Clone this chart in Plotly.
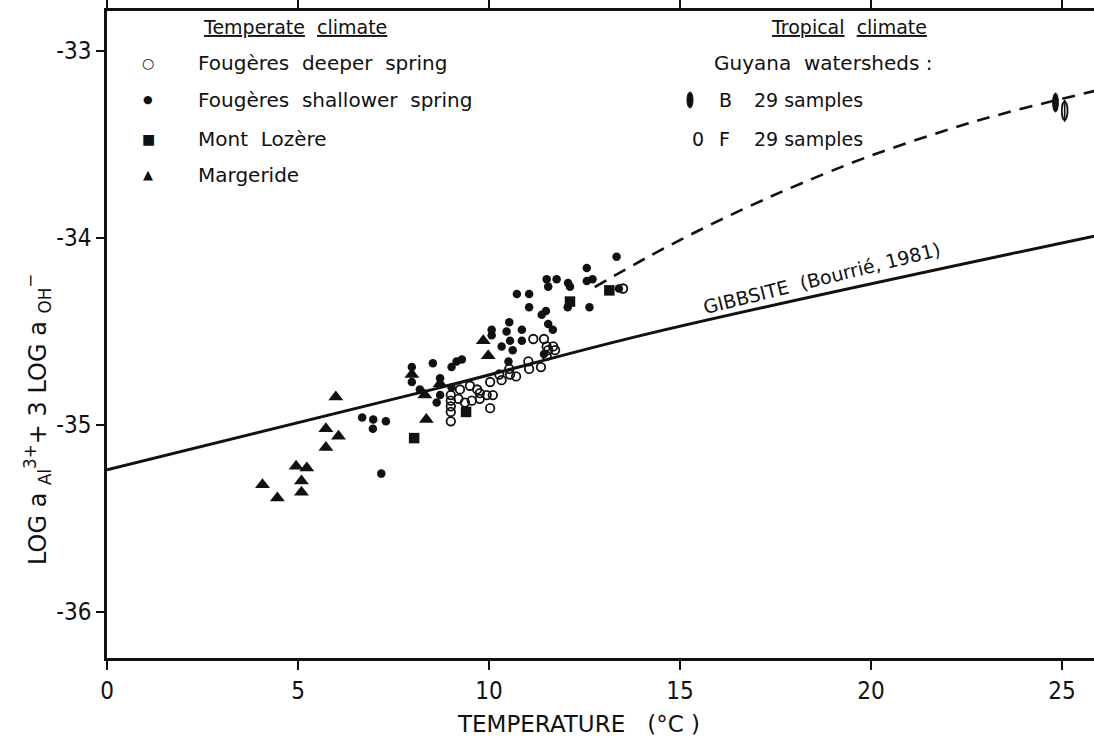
import plotly.graph_objects as go

# ---------------- data ----------------
# Fougères deeper spring (open circles)
deep_T = [11.16, 11.44, 11.51, 11.68, 11.55, 11.73, 11.51, 11.03, 11.05, 11.36, 10.53, 10.55,
          10.71, 10.27, 10.33, 10.03, 9.50, 9.69, 9.76, 9.94, 10.10, 9.24, 9.00, 9.00, 9.20,
          9.37, 9.55, 9.76, 9.00, 9.00, 10.03, 9.00, 13.51]
deep_v = [-34.54, -34.54, -34.58, -34.58, -34.60, -34.60, -34.63, -34.66, -34.70, -34.69, -34.70, -34.73,
          -34.74, -34.73, -34.76, -34.77, -34.79, -34.81, -34.83, -34.84, -34.84, -34.81, -34.84, -34.87, -34.86,
          -34.88, -34.87, -34.86, -34.90, -34.93, -34.91, -34.98, -34.27]

# Fougères shallower spring (filled circles)
shallow_T = [6.68, 6.97, 7.30, 6.96, 7.18, 7.98, 7.98, 8.53, 9.02, 9.15, 9.29, 8.72, 8.72, 9.02, 8.63,
             8.19, 10.51, 11.44, 10.07, 10.07, 10.46, 10.55, 10.53, 10.86, 10.86, 10.33, 10.62, 10.73,
             11.05, 11.05, 11.38, 11.49, 11.55, 11.67, 11.51, 11.55, 11.77, 12.07, 12.12, 12.06, 12.63,
             12.56, 12.56, 12.71, 13.34, 13.40]
shallow_v = [-34.96, -34.97, -34.98, -35.02, -35.26, -34.69, -34.77, -34.67, -34.69, -34.66, -34.65, -34.75,
             -34.84, -34.80, -34.88, -34.81, -34.66, -34.62, -34.49, -34.52, -34.50, -34.55, -34.45, -34.49,
             -34.55, -34.58, -34.60, -34.30, -34.30, -34.37, -34.41, -34.39, -34.46, -34.49, -34.22, -34.26,
             -34.22, -34.24, -34.26, -34.37, -34.37, -34.16, -34.23, -34.22, -34.10, -34.27]

# Mont Lozère (squares)
loz_T = [8.04, 9.40, 12.12, 13.15]
loz_v = [-35.07, -34.93, -34.34, -34.28]

# Margeride (triangles)
marg_T = [5.99, 5.73, 6.06, 5.73, 4.95, 5.23, 5.09, 4.07, 5.09, 4.46, 8.32, 8.36, 7.98, 9.85, 9.98, 8.72]
marg_v = [-34.85, -35.02, -35.06, -35.12, -35.22, -35.23, -35.30, -35.32, -35.36, -35.39, -34.84, -34.97,
          -34.73, -34.55, -34.63, -34.78]

# Guyana watersheds (29 samples each): centre temperature, min and max value
guy_names = ["B", "F"]
guy_T = [24.83, 25.07]
guy_min = [-33.326, -33.369]
guy_max = [-33.225, -33.271]

# Gibbsite solubility line (Bourrié, 1981)
gibbs_T = [0.0, 8.72, 14.21, 25.84]
gibbs_v = [-35.24, -34.80, -34.51, -33.99]

# dashed trend towards tropical data
dash_T = [12.77, 14.21, 15.52, 16.83, 18.14, 19.90, 22.07, 23.38, 24.87, 25.84]
dash_v = [-34.262, -34.096, -33.957, -33.829, -33.711, -33.567, -33.417, -33.339, -33.262, -33.214]

x_ticks = [0, 5, 10, 15, 20, 25]
y_ticks = [-33, -34, -35, -36]
y_ticktext = ["-33", "-34", "-35", "-36"]

# ---------------- layout geometry ----------------
W, H = 1094, 742
ML, MR, MT, MB = 107, 0, 11, 84
PW, PH = W - ML - MR, H - MT - MB


def px(x):
    return (x - ML) / PW


def py(y):
    return (H - MB - y) / PH


FONT = "DejaVu Sans, sans-serif"
TICKFONT = "DejaVu Sans Condensed, DejaVu Sans, sans-serif"
BLACK = "#111111"

fig = go.Figure()

fig.add_trace(go.Scatter(x=gibbs_T, y=gibbs_v, mode="lines", line_shape="spline",
                         line=dict(color=BLACK, width=3, smoothing=1.0), showlegend=False, hoverinfo="skip"))
fig.add_trace(go.Scatter(x=dash_T, y=dash_v, mode="lines", line_shape="spline",
                         line=dict(color=BLACK, width=2.6, dash="13px,9px", smoothing=1.0), showlegend=False))

fig.add_trace(go.Scatter(x=deep_T, y=deep_v, mode="markers", name="Fougères deeper spring",
                         marker=dict(symbol="circle-open", size=8.5, color=BLACK, line=dict(width=1.8, color=BLACK))))
fig.add_trace(go.Scatter(x=shallow_T, y=shallow_v, mode="markers", name="Fougères shallower spring",
                         marker=dict(symbol="circle", size=8.5, color=BLACK)))
fig.add_trace(go.Scatter(x=loz_T, y=loz_v, mode="markers", name="Mont Lozère",
                         marker=dict(symbol="square", size=10.5, color=BLACK)))
fig.add_trace(go.Scatter(x=marg_T, y=marg_v, mode="markers", name="Margeride",
                         marker=dict(symbol="triangle-up", size=13, color=BLACK)))

shapes = []
# Guyana ellipses (data coords)
half_w = 0.075
for name, t, lo, hi in zip(guy_names, guy_T, guy_min, guy_max):
    if name == "B":
        shapes.append(dict(type="circle", xref="x", yref="y", x0=t - half_w, x1=t + half_w,
                           y0=lo, y1=hi, fillcolor=BLACK, line=dict(color=BLACK, width=1)))
    else:
        shapes.append(dict(type="circle", xref="x", yref="y", x0=t - half_w, x1=t + half_w,
                           y0=lo, y1=hi, fillcolor="white", line=dict(color=BLACK, width=1.8)))
        shapes.append(dict(type="line", xref="x", yref="y", x0=t, x1=t,
                           y0=lo - 0.01, y1=hi + 0.01, line=dict(color=BLACK, width=1.6)))

# legend ellipse for B
shapes.append(dict(type="circle", xref="paper", yref="paper", x0=px(687), x1=px(693),
                   y0=py(108), y1=py(92), fillcolor=BLACK, line=dict(color=BLACK, width=1)))

annotations = []


def txt(text, x, y, size=20, xanchor="left", angle=0, family=FONT):
    annotations.append(dict(text=text, x=px(x), y=py(y), xref="paper", yref="paper",
                            showarrow=False, xanchor=xanchor, yanchor="middle", textangle=angle,
                            font=dict(family=family, size=size, color=BLACK)))


# Temperate legend
txt("<u>Temperate</u>  <u>climate</u>", 295, 27, 19, "center")
txt("○", 148, 63, 14, "center")
txt("●", 148, 100, 11, "center")
txt("■", 148, 139, 14, "center")
txt("▲", 148, 175, 13, "center")
txt("Fougères  deeper  spring", 196, 63)
txt("Fougères  shallower  spring", 196, 100)
txt("Mont  Lozère", 196, 139)
txt("Margeride", 196, 175)

# Tropical legend
txt("<u>Tropical</u>  <u>climate</u>", 849, 27, 19, "center")
txt("Guyana  watersheds :", 712, 63, 20)
txt("B", 717, 100, 19)
txt("29 samples", 752, 100, 19)
txt("0", 690, 139, 19)
txt("F", 717, 139, 19)
txt("29 samples", 752, 139, 19)

# gibbsite label
txt("GIBBSITE  (Bourrié, 1981)", 822, 278, 19, "center", -14)

# axis titles
txt("TEMPERATURE   (°C )", 578, 724, 23, "center")
txt("LOG a <sub>Al</sub><sup>3+</sup>+ 3 LOG a <sub>OH</sub><sup>−</sup>", 37, 420, 24, "center", -90)

fig.update_layout(
    width=W, height=H,
    margin=dict(l=ML, r=MR, t=MT, b=MB),
    paper_bgcolor="white", plot_bgcolor="white",
    showlegend=False,
    shapes=shapes, annotations=annotations,
    font=dict(family=FONT, color=BLACK),
)
fig.update_xaxes(range=[0, PW / 38.2], tickvals=x_ticks, showgrid=False, zeroline=False,
                 showline=True, linecolor=BLACK, linewidth=2.5, mirror="ticks",
                 ticks="outside", ticklen=9, tickwidth=1.5, tickcolor=BLACK,
                 tickfont=dict(family=TICKFONT, size=24, color=BLACK))
fig.update_yaxes(range=[-36.246, -32.786], tickvals=y_ticks, ticktext=y_ticktext,
                 showgrid=False, zeroline=False,
                 showline=True, linecolor=BLACK, linewidth=2.5, mirror=False,
                 ticks="outside", ticklen=8, tickwidth=1.5, tickcolor=BLACK,
                 tickfont=dict(family=TICKFONT, size=24, color=BLACK))

fig.write_html("out.html")
